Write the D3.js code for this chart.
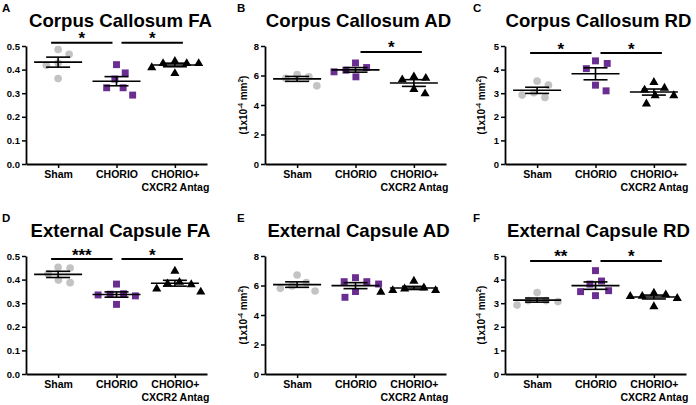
<!DOCTYPE html>
<html><head><meta charset="utf-8">
<script src="https://cdn.jsdelivr.net/npm/d3@7"></script>
<style>
body{margin:0;background:#fff}
text{font-family:"Liberation Sans",Arial,Helvetica,sans-serif;font-weight:bold}
</style>
</head><body>
<svg id="chart" width="696" height="405"></svg>
<script>
// ---------- data ----------
const categories = ["Sham", "CHORIO", "CHORIO+|CXCR2 Antag"];
const panelLetters = ["A", "B", "C", "D", "E", "F"];
const panelTitles = ["Corpus Callosum FA", "Corpus Callosum AD", "Corpus Callosum RD",
                     "External Capsule FA", "External Capsule AD", "External Capsule RD"];
const yMaxes = [0.5, 8, 5, 0.5, 8, 5];
const yTicksFA = [0, 0.1, 0.2, 0.3, 0.4, 0.5];
const yTicksAD = [0, 2, 4, 6, 8];
const yTicksRD = [0, 1, 2, 3, 4, 5];
const hasUnitLabel = [false, true, true, false, true, true];

const ccFA_sham   = [0.485, 0.465, 0.428, 0.418, 0.362];
const ccFA_chorio = [0.421, 0.386, 0.360, 0.323, 0.323, 0.292];
const ccFA_antag  = [0.437, 0.428, 0.428, 0.428, 0.411, 0.386];

const ccAD_sham   = [6.07, 5.91, 5.80, 5.30];
const ccAD_chorio = [6.54, 6.36, 6.85, 6.25, 5.91];
const ccAD_antag  = [5.85, 5.75, 5.10, 5.95, 4.80];

const ccRD_sham   = [3.34, 3.51, 3.02, 2.92, 2.82];
const ccRD_chorio = [4.37, 4.26, 4.04, 3.34, 3.10];
const ccRD_antag  = [3.24, 2.92, 3.16, 2.92, 3.48, 2.57];

const ecFA_sham   = [0.424, 0.452, 0.398, 0.449, 0.387];
const ecFA_chorio = [0.338, 0.335, 0.340, 0.381, 0.331, 0.295];
const ecFA_antag  = [0.391, 0.385, 0.438, 0.381, 0.363, 0.350];

const ecAD_sham   = [6.19, 5.97, 6.71, 5.81, 5.63];
const ecAD_chorio = [6.26, 6.26, 5.59, 6.10, 5.20, 6.53];
const ecAD_antag  = [5.88, 5.81, 5.70, 6.33, 5.70, 5.59];

const ecRD_sham   = [3.45, 3.11, 3.11, 3.07, 2.92];
const ecRD_chorio = [3.53, 3.94, 4.38, 3.49, 3.81, 3.32];
const ecRD_antag  = [3.32, 3.31, 3.45, 3.38, 3.23, 2.88];

// significance annotations: from category, to category, label, level (data units)
const sigA = [{a: 0, b: 1, label: "*", level: 0.514}, {a: 1, b: 2, label: "*", level: 0.514}];
const sigB = [{a: 1, b: 2, label: "*", level: 7.6}];
const sigC = [{a: 0, b: 1, label: "*", level: 4.70}, {a: 1, b: 2, label: "*", level: 4.70}];
const sigD = [{a: 0, b: 1, label: "***", level: 0.487}, {a: 1, b: 2, label: "*", level: 0.487}];
const sigE = [];
const sigF = [{a: 0, b: 1, label: "**", level: 4.79}, {a: 1, b: 2, label: "*", level: 4.79}];

// ---------- assembly ----------
const panelSeries = [
  [ccFA_sham, ccFA_chorio, ccFA_antag],
  [ccAD_sham, ccAD_chorio, ccAD_antag],
  [ccRD_sham, ccRD_chorio, ccRD_antag],
  [ecFA_sham, ecFA_chorio, ecFA_antag],
  [ecAD_sham, ecAD_chorio, ecAD_antag],
  [ecRD_sham, ecRD_chorio, ecRD_antag]
];
const panelTicks = [yTicksFA, yTicksAD, yTicksRD, yTicksFA, yTicksAD, yTicksRD];
const panelSig = [sigA, sigB, sigC, sigD, sigE, sigF];

// ---------- layout / style ----------
const colX = [26, 265, 505];
const plotW = 181;
const rowTop = [46, 256];
const plotH = 118;
const letterX = [2, 237, 473];
const unitGap = [0, 22, 24.5];
const titleShift = [4, 3, 3];
const seriesColors = ["#c3c3c3", "#6a2d91", "#000000"];
const seriesSymbols = [d3.symbolCircle, d3.symbolSquare, d3.symbolTriangle];
const seriesSizes = [46, 48, 36];
const FONT = '"Liberation Sans",Arial,sans-serif';

const svg = d3.select("#chart");

function swarm(vals, y, d) {
  const pts = vals.map((v, i) => ({v, i, y: y(v), x: 0}));
  const order = pts.slice().sort((p, q) => p.y - q.y);
  const placed = [];
  let flip = 1;
  for (const p of order) {
    const cands = [0];
    for (const q of placed) {
      const dy = Math.abs(p.y - q.y);
      if (dy < d) {
        const dx = Math.sqrt(d * d - dy * dy) + 0.01;
        cands.push(q.x + dx * flip, q.x - dx * flip);
      }
    }
    const sorted = cands.map((c, k) => ({c, k})).sort((a, b) => (Math.abs(a.c) - Math.abs(b.c)) || (a.k - b.k));
    for (const {c} of sorted) {
      if (placed.every(q => (q.x - c) ** 2 + (q.y - p.y) ** 2 >= d * d - 0.05)) { p.x = c; break; }
    }
    if (p.x !== 0) flip = -flip;
    placed.push(p);
  }
  return pts;
}

function sem(a) { return d3.deviation(a) / Math.sqrt(a.length); }

panelSeries.forEach((series, pi) => {
  const col = pi % 3, row = Math.floor(pi / 3);
  const x0 = colX[col], top = rowTop[row], bottom = top + plotH;
  const g = svg.append("g");

  const x = d3.scalePoint().domain(categories).range([x0, x0 + plotW]).padding(0.55);
  const y = d3.scaleLinear().domain([0, yMaxes[pi]]).range([bottom, top]);
  const isFA = yMaxes[pi] < 1;

  // y axis
  const ya = g.append("g").attr("transform", `translate(${x0},0)`)
    .call(d3.axisLeft(y).tickValues(panelTicks[pi]).tickSize(4).tickSizeOuter(0).tickPadding(2)
      .tickFormat(isFA ? d3.format(".1f") : d3.format("d")));
  ya.select(".domain").attr("stroke", "#000").attr("stroke-width", 1.8);
  ya.selectAll(".tick line").attr("stroke", "#000").attr("stroke-width", 1.5);
  ya.selectAll(".tick text").attr("font-size", 9.5).attr("font-weight", "bold")
    .attr("font-family", FONT).attr("fill", "#000");

  // x axis
  const xa = g.append("g").attr("transform", `translate(0,${bottom})`)
    .call(d3.axisBottom(x).tickSize(4).tickSizeOuter(0).tickPadding(3).tickFormat(""));
  xa.select(".domain").attr("stroke", "#000").attr("stroke-width", 1.8);
  xa.selectAll(".tick line").attr("stroke", "#000").attr("stroke-width", 1.5);
  xa.selectAll(".tick").each(function(d) {
    const lines = d.split("|");
    const t = d3.select(this).append("text").attr("fill", "#000").attr("font-size", 10.5)
      .attr("font-weight", "bold").attr("text-anchor", "middle").attr("font-family", FONT);
    lines.forEach((ln, li) => t.append("tspan").attr("x", 0).attr("y", 13.5 + li * 13).text(ln));
  });

  // points
  series.forEach((vals, si) => {
    const pts = swarm(vals, y, 12);
    g.append("g").selectAll("path").data(pts).join("path")
      .attr("d", d3.symbol().type(seriesSymbols[si]).size(seriesSizes[si]))
      .attr("transform", p => `translate(${x(categories[si]) + p.x},${p.y + (si === 2 ? 0.5 : 0)})`)
      .attr("fill", seriesColors[si]);
  });

  // mean & SEM
  series.forEach((vals, si) => {
    const cx = x(categories[si]);
    const m = d3.mean(vals), s = sem(vals);
    const eg = g.append("g").attr("stroke", "#000").attr("stroke-width", 1.6).attr("fill", "none");
    eg.append("line").attr("x1", cx - 24).attr("x2", cx + 24).attr("y1", y(m)).attr("y2", y(m));
    eg.append("line").attr("x1", cx).attr("x2", cx).attr("y1", y(m - s)).attr("y2", y(m + s));
    eg.append("line").attr("x1", cx - 12).attr("x2", cx + 12).attr("y1", y(m + s)).attr("y2", y(m + s));
    eg.append("line").attr("x1", cx - 12).attr("x2", cx + 12).attr("y1", y(m - s)).attr("y2", y(m - s));
  });

  // significance bars
  panelSig[pi].forEach(sg => {
    const xa1 = x(categories[sg.a]) + (sg.a === 0 ? -7 : 5);
    const xb1 = x(categories[sg.b]) + (sg.b === 1 ? -4 : 8);
    const yy = y(sg.level);
    g.append("line").attr("x1", xa1).attr("x2", xb1).attr("y1", yy).attr("y2", yy)
      .attr("stroke", "#000").attr("stroke-width", 2);
    g.append("text").attr("x", (xa1 + xb1) / 2).attr("y", yy + 1.5).attr("text-anchor", "middle")
      .attr("font-size", 17).attr("fill", "#000").text(sg.label);
  });

  // unit label
  if (hasUnitLabel[pi]) {
    const t = g.append("text").attr("transform", `translate(${x0 - unitGap[col] + 4},${(top + bottom) / 2}) rotate(-90)`)
      .attr("text-anchor", "middle").attr("font-size", 10).attr("fill", "#000");
    t.append("tspan").text("(1x10");
    t.append("tspan").attr("font-size", 6.5).attr("dy", -4).text("-4");
    t.append("tspan").attr("dy", 4).text(" mm");
    t.append("tspan").attr("font-size", 6.5).attr("dy", -4).text("2");
    t.append("tspan").attr("dy", 4).text(")");
  }

  // title
  g.append("text").attr("x", x0 + plotW / 2 + titleShift[col]).attr("y", top - 19).attr("text-anchor", "middle")
    .attr("font-size", 18.6).attr("fill", "#000").text(panelTitles[pi]);

  // letter
  g.append("text").attr("x", letterX[col]).attr("y", top - 34).attr("font-size", 11.5)
    .attr("fill", "#000").text(panelLetters[pi]);
});
</script>
</body></html>
